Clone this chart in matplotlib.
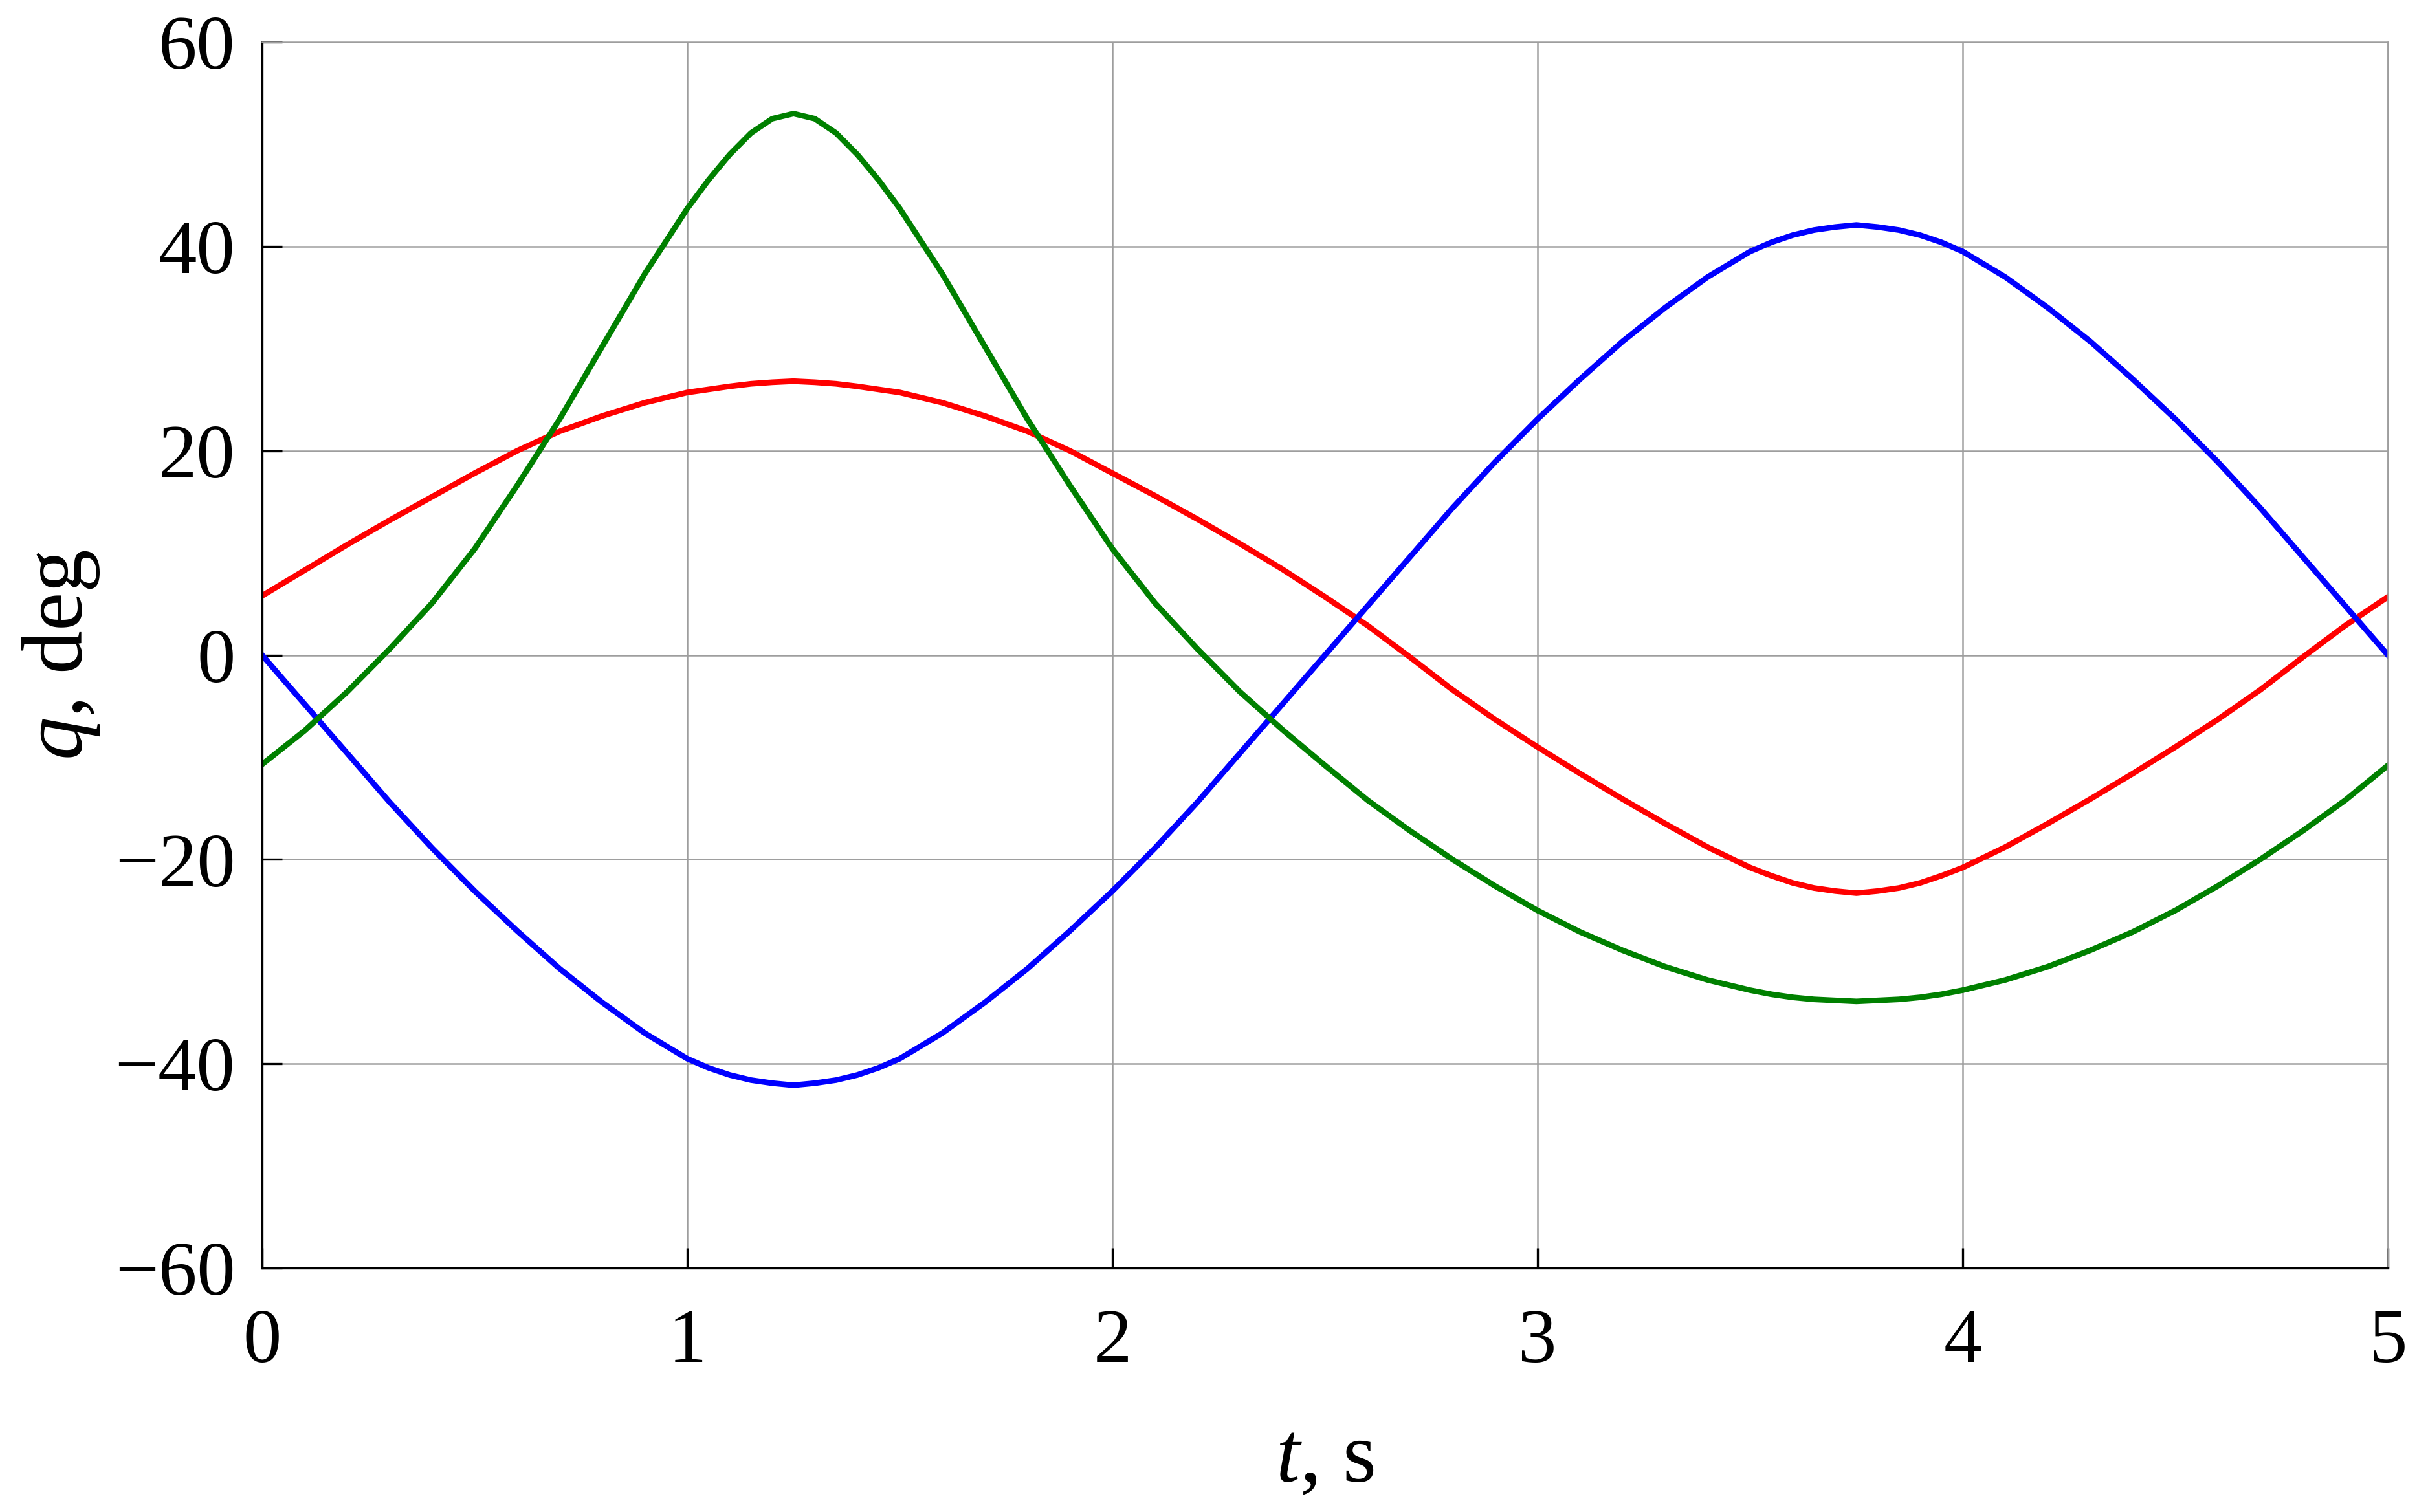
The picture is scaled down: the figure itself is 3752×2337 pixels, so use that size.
import matplotlib
matplotlib.use("Agg")
import matplotlib.pyplot as plt
import numpy as np

# time samples (s) (denser around the extrema)
t = [0.0, 0.1, 0.2, 0.3, 0.4, 0.5, 0.6, 0.7, 0.8, 0.9, 1.0,
     1.05, 1.1, 1.15, 1.2, 1.25, 1.3, 1.35, 1.4, 1.45, 1.5,
     1.6, 1.7, 1.8, 1.9, 2.0, 2.1, 2.2, 2.3, 2.4, 2.5,
     2.6, 2.7, 2.8, 2.9, 3.0, 3.1, 3.2, 3.3, 3.4, 3.5,
     3.55, 3.6, 3.65, 3.7, 3.75, 3.8, 3.85, 3.9, 3.95, 4.0,
     4.1, 4.2, 4.3, 4.4, 4.5, 4.6, 4.7, 4.8, 4.9, 5.0]

# joint angles q (deg)
q_red = [5.8, 8.3, 10.8, 13.2, 15.5, 17.8, 20.0, 21.9, 23.4, 24.7, 25.7,
         26.0, 26.3, 26.55, 26.7, 26.8, 26.7, 26.55, 26.3, 26.0, 25.7,
         24.7, 23.4, 21.9, 20.0, 17.8, 15.6, 13.3, 10.9, 8.4, 5.7,
         2.9, -0.2, -3.4, -6.3, -9.0, -11.6, -14.1, -16.5, -18.8, -20.8,
         -21.6, -22.3, -22.8, -23.1, -23.3, -23.1, -22.8, -22.3, -21.6, -20.8,
         -18.8, -16.5, -14.1, -11.6, -9.0, -6.3, -3.4, -0.2, 2.9, 5.7]

q_blue = [0.0, -4.8, -9.6, -14.4, -18.9, -23.1, -27.0, -30.7, -34.0, -37.0, -39.5,
          -40.4, -41.1, -41.6, -41.9, -42.1, -41.9, -41.6, -41.1, -40.4, -39.5,
          -37.0, -34.0, -30.7, -27.0, -23.1, -18.9, -14.4, -9.6, -4.8, 0.0,
          4.8, 9.6, 14.4, 18.9, 23.1, 27.0, 30.7, 34.0, 37.0, 39.5,
          40.4, 41.1, 41.6, 41.9, 42.1, 41.9, 41.6, 41.1, 40.4, 39.5,
          37.0, 34.0, 30.7, 27.0, 23.1, 18.9, 14.4, 9.6, 4.8, 0.0]

q_green = [-10.7, -7.4, -3.6, 0.6, 5.1, 10.4, 16.6, 23.1, 30.2, 37.3, 43.7,
           46.5, 49.0, 51.1, 52.5, 53.0, 52.5, 51.1, 49.0, 46.5, 43.7,
           37.3, 30.2, 23.1, 16.6, 10.4, 5.1, 0.6, -3.6, -7.3, -10.8,
           -14.2, -17.2, -20.0, -22.6, -25.0, -27.1, -28.9, -30.5, -31.8, -32.8,
           -33.2, -33.5, -33.7, -33.8, -33.9, -33.8, -33.7, -33.5, -33.2, -32.8,
           -31.8, -30.5, -28.9, -27.1, -25.0, -22.6, -20.0, -17.2, -14.2, -10.8]

xticks = [0, 1, 2, 3, 4, 5]
yticks = [-60, -40, -20, 0, 20, 40, 60]

plt.rcParams['font.family'] = ['Liberation Serif', 'DejaVu Serif']
plt.rcParams['mathtext.fontset'] = 'custom'
plt.rcParams['mathtext.rm'] = 'Liberation Serif'
plt.rcParams['mathtext.it'] = 'Liberation Serif:italic'

fig = plt.figure(figsize=(3752 / 300, 2337 / 300), dpi=300)
ax = fig.add_axes([405 / 3752, 1 - 1960 / 2337, (3690 - 405) / 3752, (1960 - 65) / 2337])

grid_col = '0.62'
ax.grid(True, color=grid_col, linewidth=0.6)
ax.set_axisbelow(True)

ax.plot(t, q_red, color=(1, 0, 0), linewidth=2.1)
ax.plot(t, q_blue, color=(0, 0, 1), linewidth=2.1)
ax.plot(t, q_green, color=(0, 0.5, 0), linewidth=2.1)

ax.set_xlim(0, 5)
ax.set_ylim(-60, 60)
ax.set_xticks(xticks)
ax.set_yticks(yticks)
ax.tick_params(direction='in', length=7.5, width=0.8, labelsize=28.5,
               top=False, right=False)
ax.tick_params(axis='x', pad=15)
ax.tick_params(axis='y', pad=10)

for side in ['left', 'bottom']:
    ax.spines[side].set_linewidth(0.8)
    ax.spines[side].set_color('black')
for side in ['top', 'right']:
    ax.spines[side].set_linewidth(0.6)
    ax.spines[side].set_color(grid_col)

ax.set_xlabel(r'$t$, s', fontsize=32, labelpad=16)
ax.set_ylabel(r'$q$, deg', fontsize=32, labelpad=5)

fig.savefig('out.png', dpi=300, facecolor='white')
